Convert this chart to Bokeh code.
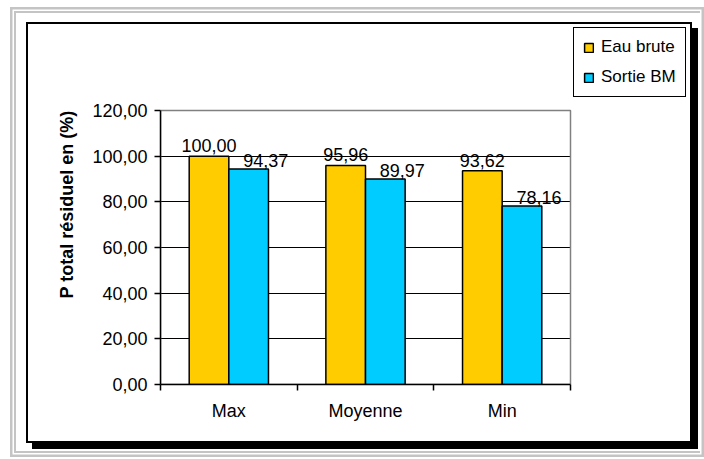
from bokeh.plotting import figure
from bokeh.models import (Range1d, FixedTicker, Legend, LegendItem, Column,
                          ColumnDataSource, BoxAnnotation)
from bokeh.transform import dodge
from bokeh.core.properties import value
from bokeh.embed import file_html
from bokeh.resources import INLINE

# ---- data ----
categories = ["Max", "Moyenne", "Min"]
eau_brute = [100.00, 95.96, 93.62]
sortie_bm = [94.37, 89.97, 78.16]
series_names = ["Eau brute", "Sortie BM"]
y_ticks = [0, 20, 40, 60, 80, 100, 120]
y_tick_labels = ["0,00", "20,00", "40,00", "60,00", "80,00", "100,00", "120,00"]
y_title = "P total résiduel en (%)"

FONT = "Liberation Sans"
YELLOW = "#FFCC00"
BLUE = "#00CCFF"


def fr(v):
    return f"{v:.2f}".replace(".", ",")


centers = [i + 0.5 for i in range(len(categories))]
src = ColumnDataSource(dict(
    x=centers, cat=categories, eau=eau_brute, sortie=sortie_bm,
    eau_lbl=[fr(v) for v in eau_brute], sortie_lbl=[fr(v) for v in sortie_bm],
))

# ---- layout (pixels) ----
W, H = 666, 421                  # chart panel canvas
LEFT, BOTTOM = 132, 61           # space for axes
PLOT_W, PLOT_H = 410, 274        # plot-area size; frame extends further up/right for the legend
FRAME_W, FRAME_H = W - LEFT, H - BOTTOM
n_cat = len(categories)
y_max = y_ticks[-1]
x_end = n_cat * FRAME_W / PLOT_W
y_end = y_max * FRAME_H / PLOT_H

p = figure(width=W, height=H, x_range=Range1d(0, x_end), y_range=Range1d(0, y_end),
           output_backend="svg", toolbar_location=None,
           min_border_left=LEFT, min_border_right=0,
           min_border_top=0, min_border_bottom=BOTTOM,
           margin=(9, 8, 8, 10))
p.styles = {"border": "2px solid black", "box-shadow": "6px 6px 0px 0px black"}
p.background_fill_color = "white"
p.border_fill_color = "white"
p.outline_line_color = None

# ---- grid ----
p.xgrid.visible = False
p.ygrid.ticker = FixedTicker(ticks=y_ticks[1:-1])
p.ygrid.grid_line_color = "black"
p.ygrid.grid_line_width = 1
p.ygrid.cross_bounds = (0, n_cat)

# plot-area border (gray)
p.add_layout(BoxAnnotation(left=0, right=n_cat, bottom=0, top=y_max,
                           fill_color=None, line_color="#808080", line_width=1.5,
                           line_alpha=1, level="underlay"))

# ---- bars ----
bw = 0.29
r1 = p.vbar(x=dodge("x", -bw / 2, range=p.x_range), top="eau", bottom=0, width=bw,
            source=src, fill_color=YELLOW, line_color="black", line_width=1.5)
r2 = p.vbar(x=dodge("x", bw / 2, range=p.x_range), top="sortie", bottom=0, width=bw,
            source=src, fill_color=BLUE, line_color="black", line_width=1.5)

# ---- value labels ----
p.text(x=dodge("x", -bw / 2, range=p.x_range), y="eau", text="eau_lbl", source=src,
       text_align="center", text_baseline="bottom", y_offset=-4,
       text_font=value(FONT), text_font_size="18px", text_color="black")
p.text(x=dodge("x", bw / 2, range=p.x_range), y="sortie", text="sortie_lbl", source=src,
       text_align="center", text_baseline="bottom", y_offset=-2, x_offset=17,
       text_font=value(FONT), text_font_size="18px", text_color="black")

# ---- axes ----
ya = p.yaxis[0]
ya.bounds = (0, y_max)
ya.ticker = FixedTicker(ticks=y_ticks)
ya.major_label_overrides = {t: l for t, l in zip(y_ticks, y_tick_labels)}
ya.minor_tick_line_color = None
ya.major_tick_out = 6
ya.major_tick_in = 0
ya.major_tick_line_width = 1.5
ya.axis_line_width = 1.5
ya.major_label_standoff = 7
ya.major_label_text_font = FONT
ya.major_label_text_font_size = "18px"
ya.major_label_text_color = "black"
ya.axis_label = y_title
ya.axis_label_text_font = FONT
ya.axis_label_text_font_size = "18px"
ya.axis_label_text_font_style = "bold"
ya.axis_label_text_color = "black"
ya.axis_label_standoff = 12

xa = p.xaxis[0]
xa.bounds = (0, n_cat)
xa.ticker = FixedTicker(ticks=centers, minor_ticks=list(range(n_cat + 1)))
xa.major_label_overrides = {c: n for c, n in zip(centers, categories)}
xa.major_tick_line_color = None
xa.major_tick_out = 6
xa.minor_tick_out = 6
xa.minor_tick_in = 0
xa.minor_tick_line_color = "black"
xa.minor_tick_line_width = 1.5
xa.axis_line_width = 1.5
xa.major_label_standoff = 10
xa.major_label_text_font = FONT
xa.major_label_text_font_size = "18px"
xa.major_label_text_color = "black"

# ---- legend ----
legend = Legend(items=[LegendItem(label=series_names[0], renderers=[r1]),
                       LegendItem(label=series_names[1], renderers=[r2])],
                location=(413, 287), orientation="vertical",
                padding=9, spacing=10, margin=0,
                glyph_width=11, glyph_height=11, label_standoff=7, label_height=20,
                label_text_font=FONT, label_text_font_size="17px",
                label_text_color="black",
                border_line_color="black", border_line_width=1, border_line_alpha=1,
                background_fill_color="white", background_fill_alpha=1)
p.add_layout(legend)

# ---- page frame (gray double line) ----
page = Column(children=[p], margin=(11, 0, 0, 14),
              styles={"border-left": "2px solid #C4C4C4",
                      "border-top": "2px solid #C4C4C4",
                      "border-bottom": "2px solid #C4C4C4",
                      "box-shadow": "0px 0px 0px 1.5px white, 0px 0px 0px 4px #C4C4C4",
                      "background-color": "white"})

open("out.html", "w").write(file_html(page, INLINE))
